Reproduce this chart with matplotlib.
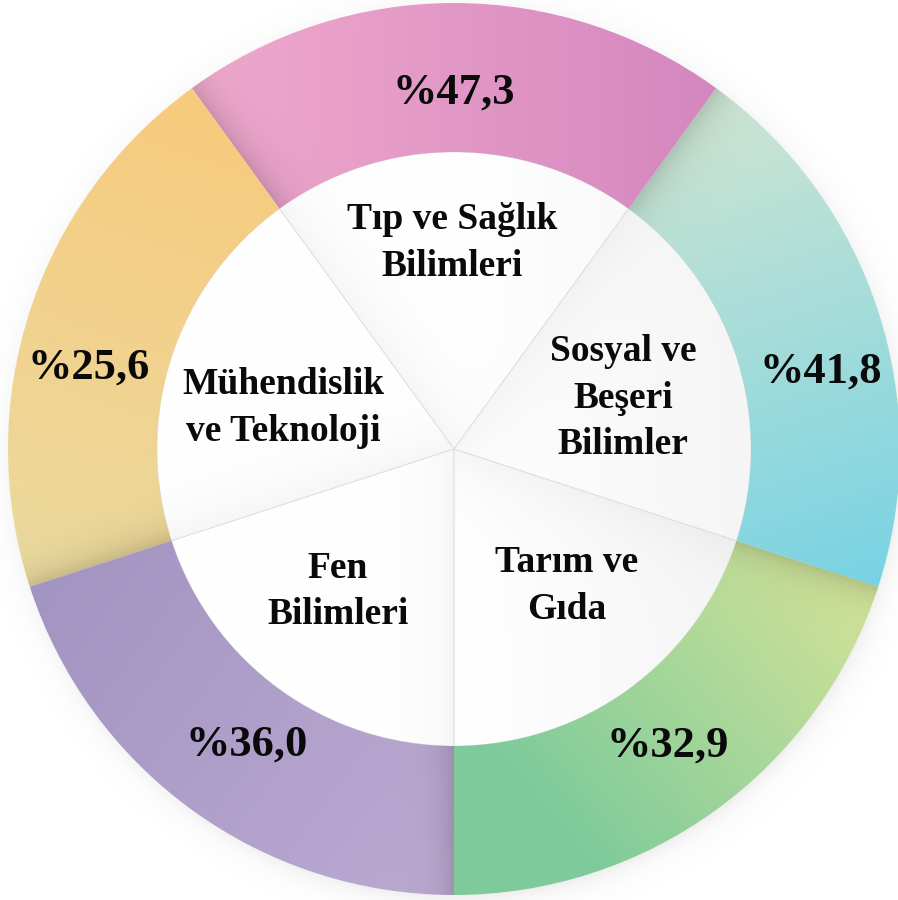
import numpy as np
import matplotlib
matplotlib.use("Agg")
import matplotlib.pyplot as plt
from matplotlib.colors import to_rgb

# ── data (counter-clockwise from the top wedge) ────────────────────────────
FIELDS = ["Tıp ve Sağlık\nBilimleri", "Mühendislik\nve Teknoloji", "Fen\nBilimleri",
          "Tarım ve\nGıda", "Sosyal ve\nBeşeri\nBilimler"]
PERCENT = [47.3, 25.6, 36.0, 32.9, 41.8]
WEIGHTS = [1, 1, 1, 1, 1]          # equal wedges in the original

# ── style ──────────────────────────────────────────────────────────────────
START = 54
R_OUT, R_IN = 1.0, 0.666
COL_A = ["#f0aacd", "#f8ca7c", "#a396c2", "#7fcb9b", "#cee5d2"]
COL_B = ["#d486bf", "#ebda9f", "#bcaad2", "#d2e398", "#79d3e3"]
GRAD = [((-0.6, 0.8), (0.6, 0.8)),
        ((-0.55, 0.8), (-0.93, -0.3)),
        ((-0.9, -0.35), (0.0, -1.0)),
        ((0.3, -0.9), (0.95, -0.35)),
        ((0.56, 0.77), (0.9, -0.3))]
PCT_POS = [(90, 0.80), (167.5, 0.84), (235, 0.81), (305.7, 0.82), (12, 0.84)]
LBL_POS = [(-0.004, 0.462), (-0.383, 0.092), (-0.26, -0.32), (0.253, -0.307), (0.379, 0.114)]
FONT = "Liberation Serif"

fig = plt.figure(figsize=(8.98, 9.0), dpi=100)
fig.patch.set_facecolor("white")
ax = fig.add_axes([0, 0, 1, 1])

EXT = [-1.06, 1.06, -1.06, 1.06]
g = np.linspace(-1.06, 1.06, 1100)
X, Y = np.meshgrid(g, g)


def shaded(c0, c1, p0, p1, theta_edge, depth, width):
    a = np.array(p1) - np.array(p0)
    t = ((X - p0[0]) * a[0] + (Y - p0[1]) * a[1]) / (a @ a)
    t = np.clip(t, 0, 1)[..., None]
    rgb = (1 - t) * np.array(to_rgb(c0)) + t * np.array(to_rgb(c1))
    th = np.radians(theta_edge)
    d = np.abs(X * np.sin(th) - Y * np.cos(th))
    return np.clip(rgb * (1 - depth * np.exp(-d / width))[..., None], 0, 1)


# soft drop shadow around the ring
rr = np.hypot(X - 0.006, Y + 0.012)
sh = np.zeros(X.shape + (4,))
sh[..., :3] = 0.35
sh[..., 3] = np.where(rr > 0.98, 0.14 * np.exp(-(rr - 0.98) / 0.025), 0.14)
ax.imshow(sh, extent=EXT, origin="lower", zorder=0, interpolation="bilinear")

# inner white wedges
inner, _ = ax.pie(WEIGHTS, radius=R_IN, startangle=START, counterclock=True,
                  colors=["white"] * len(WEIGHTS),
                  wedgeprops=dict(linewidth=0.5, edgecolor="#dedede"))
for w in inner:
    w.set_zorder(2)
    img = shaded("#ffffff", "#f6f6f6", (0, 0), (0.6, 0), w.theta2, 0.035, 0.07)
    im = ax.imshow(img, extent=EXT, origin="lower", zorder=1.5)
    im.set_clip_path(w)
    w.set_facecolor("none")

# outer gradient ring
outer, _ = ax.pie(WEIGHTS, radius=R_OUT, startangle=START, counterclock=True,
                  colors=["none"] * len(WEIGHTS),
                  wedgeprops=dict(width=R_OUT - R_IN, linewidth=0))
for i, w in enumerate(outer):
    img = shaded(COL_A[i], COL_B[i], GRAD[i][0], GRAD[i][1], w.theta2, 0.15, 0.035)
    im = ax.imshow(img, extent=EXT, origin="lower", zorder=3)
    im.set_clip_path(w)

# labels
for i, v in enumerate(PERCENT):
    ang, rad = PCT_POS[i]
    ax.text(rad * np.cos(np.radians(ang)), rad * np.sin(np.radians(ang)),
            "%" + f"{v:.1f}".replace(".", ","), ha="center", va="center",
            fontsize=32, fontweight="bold", family=FONT, color="#0a0a0a", zorder=5)
    x, y = LBL_POS[i]
    ax.text(x, y, FIELDS[i], ha="center", va="center", fontsize=27,
            fontweight="bold", family=FONT, color="#0a0a0a", linespacing=1.42,
            zorder=5)

# pie() resets the limits, so set them last
ax.set_xlim(-454 / 446, 444 / 446)
ax.set_ylim(-451 / 446, 449 / 446)
ax.set_aspect("equal")
ax.axis("off")

fig.savefig("out.png", dpi=100, facecolor="white")
